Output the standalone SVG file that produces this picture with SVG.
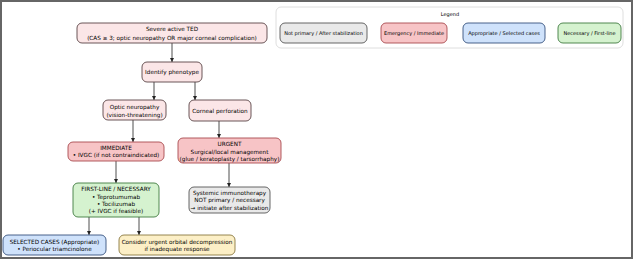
<svg xmlns="http://www.w3.org/2000/svg" width="633" height="259" viewBox="0 0 633 259">
<defs>
<marker id="ah" viewBox="0 0 10 10" refX="10" refY="5" markerWidth="4" markerHeight="4" orient="auto" markerUnits="userSpaceOnUse">
<path d="M0,0 L10,5 L0,10 z" fill="#222"/>
</marker>
<style>
text{font-family:"DejaVu Sans",Verdana,sans-serif;font-size:5.7px;fill:#000;text-anchor:middle}
.lg text{font-size:5px}
.n{stroke-width:0.9}
.pk{fill:#fbe6e7;stroke:#5a4446}
.em{fill:#f7c4c6;stroke:#a84a4e}
.gy{fill:#e9e9e9;stroke:#555}
.bl{fill:#cfe2fb;stroke:#36517e}
.gr{fill:#d5f2cf;stroke:#3f7a3f}
.yl{fill:#fcefc6;stroke:#8a7840}
.c line{stroke:#222;stroke-width:0.8;marker-end:url(#ah)}
</style>
</defs>
<rect x="1" y="1" width="631" height="257" fill="#fff" stroke="#666" stroke-width="2"/>
<g id="legend" class="lg">
<rect x="276" y="7" width="347" height="41" rx="5" fill="#fff" stroke="#d6d6d6" stroke-width="0.8"/>
<text x="450" y="15.5">Legend</text>
<rect class="n gy" x="280" y="23" width="87" height="20" rx="5"/>
<text x="323.5" y="34.8">Not primary / After stabilization</text>
<rect class="n em" x="381" y="23" width="66" height="20" rx="5"/>
<text x="414" y="34.8">Emergency / Immediate</text>
<rect class="n bl" x="463" y="23" width="82" height="20" rx="5"/>
<text x="504" y="34.8">Appropriate / Selected cases</text>
<rect class="n gr" x="558" y="23" width="63" height="20" rx="5"/>
<text x="589.5" y="34.8">Necessary / First-line</text>
</g>
<g class="c" id="connectors">
<line x1="172" y1="43" x2="172" y2="62"/>
<line x1="154" y1="82" x2="154" y2="100"/>
<line x1="195" y1="82" x2="195" y2="100"/>
<line x1="133" y1="120" x2="133" y2="142"/>
<line x1="219" y1="121" x2="219" y2="138"/>
<line x1="116" y1="161" x2="116" y2="183"/>
<line x1="229" y1="163" x2="229" y2="187"/>
<line x1="89" y1="217" x2="89" y2="235"/>
<line x1="139" y1="217" x2="139" y2="235"/>
</g>
<g id="severe">
<rect class="n pk" x="77" y="23" width="190" height="20" rx="5"/>
<text x="172" y="31">Severe active TED</text>
<text x="172" y="39.5">(CAS ≥ 3; optic neuropathy OR major corneal complication)</text>
</g>
<g id="identify">
<rect class="n pk" x="142" y="62" width="60" height="20" rx="5"/>
<text x="172" y="74">Identify phenotype</text>
</g>
<g id="optic">
<rect class="n pk" x="103" y="100" width="63" height="20" rx="5"/>
<text x="134.5" y="108.5">Optic neuropathy</text>
<text x="134.5" y="116.5">(vision-threatening)</text>
</g>
<g id="corneal">
<rect class="n pk" x="189" y="100" width="62" height="21" rx="5"/>
<text x="220" y="112.5">Corneal perforation</text>
</g>
<g id="immediate">
<rect class="n em" x="68" y="142" width="96" height="19" rx="5"/>
<text x="116" y="149.5">IMMEDIATE</text>
<text x="116" y="157">• IVGC (if not contraindicated)</text>
</g>
<g id="urgent">
<rect class="n em" x="178" y="138" width="103" height="25" rx="5"/>
<text x="229.5" y="146">URGENT</text>
<text x="229.5" y="153.5">Surgical/local management</text>
<text x="229.5" y="161">(glue / keratoplasty / tarsorrhaphy)</text>
</g>
<g id="firstline">
<rect class="n gr" x="73" y="183" width="86" height="34" rx="5"/>
<text x="116" y="191">FIRST-LINE / NECESSARY</text>
<text x="116" y="198.5">• Teprotumumab</text>
<text x="116" y="206">• Tocilizumab</text>
<text x="116" y="213">(+ IVGC if feasible)</text>
</g>
<g id="systemic">
<rect class="n gy" x="189" y="187" width="81" height="26" rx="5"/>
<text x="229.5" y="194.5">Systemic immunotherapy</text>
<text x="229.5" y="202">NOT primary / necessary</text>
<text x="229.5" y="209.5">→ initiate after stabilization</text>
</g>
<g id="selected">
<rect class="n bl" x="3" y="235" width="103" height="20" rx="5"/>
<text x="54.5" y="243.5">SELECTED CASES (Appropriate)</text>
<text x="54.5" y="251">• Periocular triamcinolone</text>
</g>
<g id="consider">
<rect class="n yl" x="119" y="235" width="116" height="20" rx="5"/>
<text x="177" y="243.5">Consider urgent orbital decompression</text>
<text x="177" y="251">if inadequate response</text>
</g>
</svg>
